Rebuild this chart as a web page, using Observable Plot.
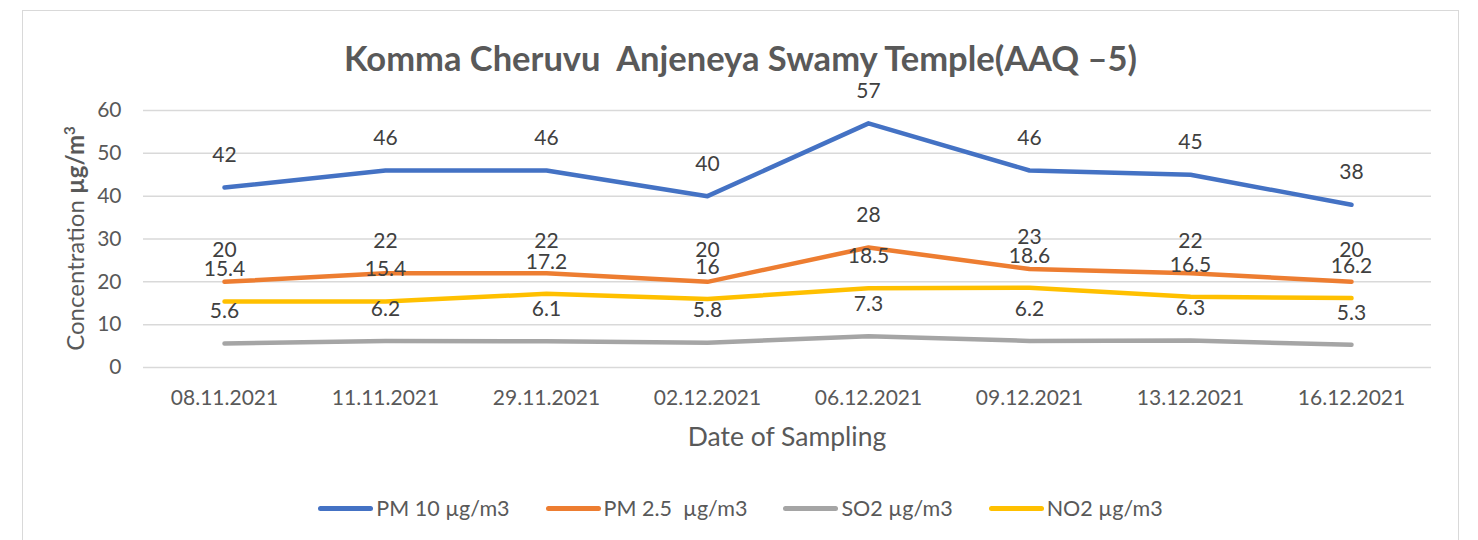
<!DOCTYPE html>
<html>
<head>
<meta charset="utf-8">
<script src="https://cdn.jsdelivr.net/npm/d3@7"></script>
<script src="https://cdn.jsdelivr.net/npm/@observablehq/plot@0.6"></script>
<style>
  html, body { margin: 0; padding: 0; background: #fff; overflow: hidden; }
  #wrap { position: relative; width: 1478px; height: 540px; font-family: Lato, "Open Sans", sans-serif; }
  #frame { position: absolute; left: 22px; top: 10px; width: 1437px; height: 620px; border: 1.5px solid #d9d9d9; box-sizing: border-box; }
  #title { position: absolute; left: 22px; width: 1437px; top: 36px; text-align: center; font-weight: 700; font-size: 34.5px; color: #595959; line-height: 44px; white-space: pre; }
  #chart { position: absolute; left: 0; top: 96px; }
  #legend { position: absolute; left: 22px; width: 1437px; top: 493px; display: flex; justify-content: center; align-items: center; gap: 36px; font-size: 21.5px; color: #595959; line-height: 30px; white-space: pre; }
  .item { display: flex; align-items: center; }
  .sw { width: 55px; height: 5px; border-radius: 3px; margin-right: 3px; }
</style>
</head>
<body>
<div id="wrap">
  <div id="frame"></div>
  <div id="title"></div>
  <div id="chart"></div>
  <div id="legend"></div>
</div>
<script>
const titleText = "Komma Cheruvu  Anjeneya Swamy Temple(AAQ \u20135)";
const dates = ["08.11.2021", "11.11.2021", "29.11.2021", "02.12.2021", "06.12.2021", "09.12.2021", "13.12.2021", "16.12.2021"];
const pm10 = [42, 46, 46, 40, 57, 46, 45, 38];
const pm25 = [20, 22, 22, 20, 28, 23, 22, 20];
const so2 = [5.6, 6.2, 6.1, 5.8, 7.3, 6.2, 6.3, 5.3];
const no2 = [15.4, 15.4, 17.2, 16, 18.5, 18.6, 16.5, 16.2];
const seriesNames = ["PM 10 \u00b5g/m3", "PM 2.5  \u00b5g/m3", "SO2 \u00b5g/m3", "NO2 \u00b5g/m3"];
const seriesValues = [pm10, pm25, so2, no2];
const seriesColors = ["#4472C4", "#ED7D31", "#A5A5A5", "#FFC000"];
const yTicks = [0, 10, 20, 30, 40, 50, 60];
const yLabelPlain = "Concentration ";
const yLabelBold = "\u00b5g/m";
const yLabelSup = "3";
const xLabel = "Date of Sampling";

document.getElementById("title").textContent = titleText;

const rows = [];
seriesNames.forEach((s, i) => {
  dates.forEach((d, j) => rows.push({series: s, date: d, value: seriesValues[i][j]}));
});

const W = 1478, H = 374;
const mL = 143, mR = 47, mT = 14, mB = 103;

const lineMarks = seriesNames.map((s) =>
  Plot.line(rows.filter(r => r.series === s), {
    x: "date", y: "value", stroke: "series",
    strokeWidth: 4.5, strokeLinecap: "round", strokeLinejoin: "round"
  })
);
const labelMarks = seriesNames.map((s) =>
  Plot.text(rows.filter(r => r.series === s), {
    x: "date", y: "value", text: d => String(d.value),
    dy: -32, fill: "#404040", fontSize: 21
  })
);

const plot = Plot.plot({
  width: W, height: H,
  marginLeft: mL, marginRight: mR, marginTop: mT, marginBottom: mB,
  style: {fontFamily: "Lato, 'Open Sans', sans-serif", background: "transparent", overflow: "visible"},
  x: {type: "point", domain: dates, padding: 0.5, label: null},
  y: {domain: [0, 60], ticks: yTicks, label: null},
  color: {domain: seriesNames, range: seriesColors},
  marks: [
    Plot.gridY(yTicks, {stroke: "#d9d9d9", strokeOpacity: 1, strokeWidth: 1.5}),
    Plot.axisY(yTicks, {tickSize: 0, tickPadding: 22, fontSize: 21, fill: "#595959", label: null}),
    Plot.axisX({tickSize: 0, tickPadding: 23, fontSize: 21, fill: "#595959", label: null}),
    ...lineMarks,
    ...labelMarks
  ]
});

const svg = d3.select(plot);
// y axis title
const yt = svg.append("text")
  .attr("transform", `translate(84,${mT + (H - mT - mB) / 2}) rotate(-90)`)
  .attr("text-anchor", "middle")
  .attr("fill", "#595959")
  .attr("font-size", 24);
yt.append("tspan").text(yLabelPlain);
yt.append("tspan").attr("font-weight", 700).text(yLabelBold);
yt.append("tspan").attr("font-weight", 700).attr("font-size", 15).attr("dy", "-0.6em").text(yLabelSup);
// x axis title
svg.append("text")
  .attr("x", (mL + W - mR) / 2)
  .attr("y", 341)
  .attr("dy", "0.35em")
  .attr("text-anchor", "middle")
  .attr("fill", "#595959")
  .attr("font-size", 26.5)
  .text(xLabel);

document.getElementById("chart").appendChild(plot);

const legend = d3.select("#legend");
seriesNames.forEach((s, i) => {
  const it = legend.append("div").attr("class", "item");
  it.append("div").attr("class", "sw").style("background", seriesColors[i]);
  it.append("span").text(s);
});
</script>
</body>
</html>
